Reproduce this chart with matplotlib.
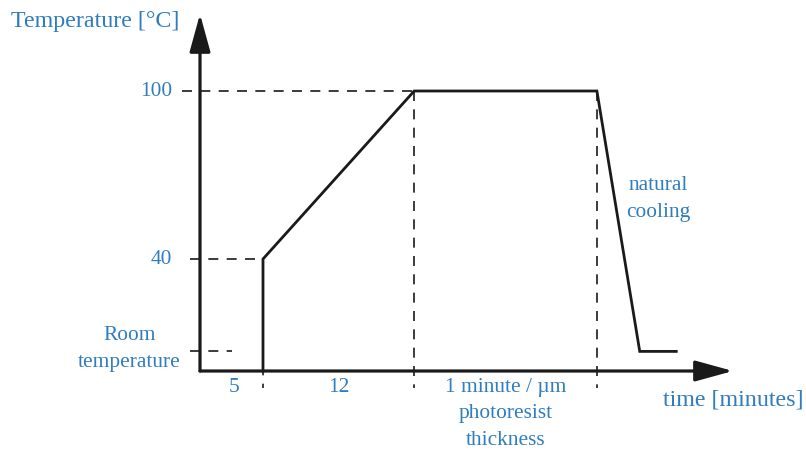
import matplotlib
matplotlib.use("Agg")
import matplotlib.pyplot as plt

# schematic units: time in "minutes", temperature in degC (not to scale)
ROOM_T = 7.0
profile_t = [5, 5, 17, 31.5, 34.9, 37.8]
profile_T = [0, 40, 100, 100, ROOM_T, ROOM_T]
y_ticks = [100, 40]
y_tick_labels = ["100", "40"]
seg_labels = ["5", "12", "1 minute / \u00b5m\nphotoresist\nthickness"]
seg_bounds = [0, 5, 17, 31.5]

BLUE = "#2F7DBE"
plt.rcParams["font.family"] = ["Liberation Serif", "DejaVu Serif"]

fig = plt.figure(figsize=(8.06, 4.53), dpi=100)
ax = fig.add_axes([0, 0, 1, 1])
ax.set_xlim(-200 / 12.6, 606 / 12.6)
ax.set_ylim(-82 / 2.8, 371 / 2.8)
ax.axis("off")

# axes with arrow heads
arrow = dict(arrowstyle="-|>,head_length=0.8,head_width=0.22", mutation_scale=29,
             lw=2.3, color="#1a1a1a", shrinkA=0, shrinkB=0)
ax.annotate("", xy=(0, 127.5), xytext=(0, 0), arrowprops=arrow)
ax.annotate("", xy=(42.3, 0), xytext=(0, 0), arrowprops=arrow)

# dashed guides
dash = dict(color="#1a1a1a", lw=1.2, ls=(0, (6, 5)))
ax.plot([-1.4, 17], [100, 100], **dash)
ax.plot([-0.8, 5], [40, 40], **dash)
ax.plot([-0.8, 2.5], [ROOM_T, ROOM_T], **dash)
ax.plot([17, 17], [100, -6], **dash)
ax.plot([31.5, 31.5], [100, -6], **dash)
ax.plot([5, 5], [-0.5, -6], color="#1a1a1a", lw=1.2, ls=(2, (4, 5)))

# temperature profile
ax.plot(profile_t, profile_T, color="#1a1a1a", lw=2.0, solid_joinstyle="miter")

# labels
ax.text(-15.0, 125, "Temperature [\u00b0C]", color=BLUE, fontsize=17.3, va="center", ha="left")
for v, lab in zip(y_ticks, y_tick_labels):
    ax.text(-2.2, v, lab, color=BLUE, fontsize=15.4, va="center", ha="right")
ax.text(-5.6, ROOM_T + 0.8, "Room\ntemperature", color=BLUE, fontsize=15.4,
        va="center", ha="center", linespacing=1.6)
for (a, b), lab in zip(zip(seg_bounds[:-1], seg_bounds[1:]), seg_labels):
    ax.text((a + b) / 2 + (0.2 if a == 0 else 0), -2.4, lab, color=BLUE, fontsize=15.4,
            va="top", ha="center", linespacing=1.55)
ax.text(47.9, -10.5, "time [minutes]", color=BLUE, fontsize=17.3, va="center", ha="right")
ax.text(36.4, 61.5, "natural\ncooling", color=BLUE, fontsize=15.4, va="center",
        ha="center", linespacing=1.55)

fig.savefig("out.png", dpi=100)
